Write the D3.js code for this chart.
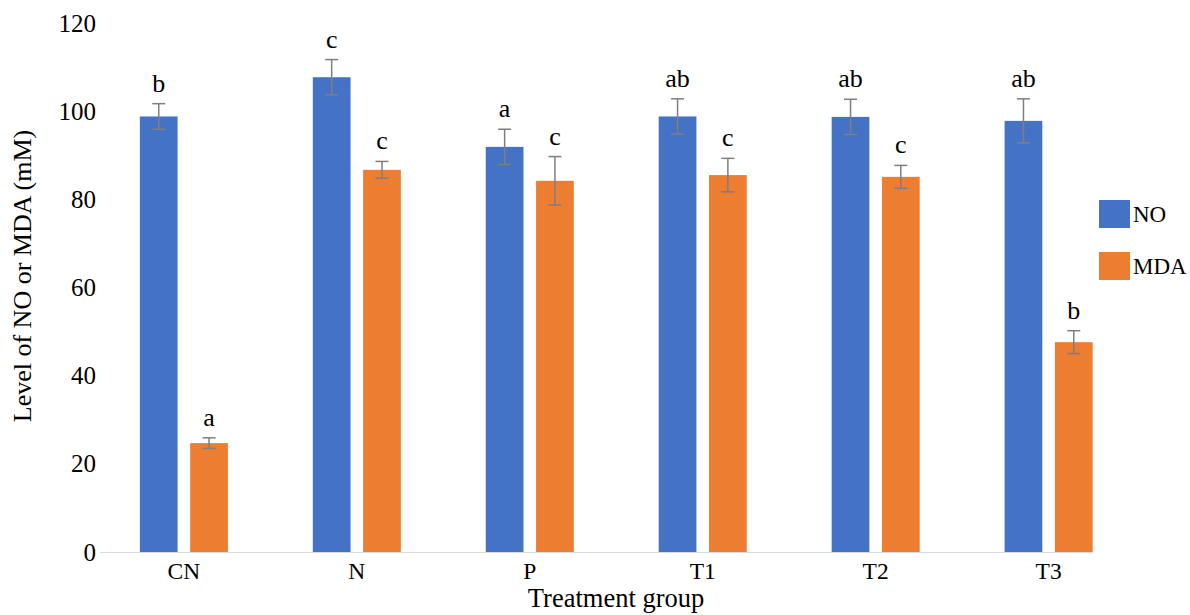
<!DOCTYPE html>
<html>
<head>
<meta charset="utf-8">
<script src="https://cdn.jsdelivr.net/npm/d3@7/dist/d3.min.js"></script>
<style>
  body { margin: 0; background: #fff; }
  text { font-family: "Liberation Serif", "Times New Roman", serif; fill: #000; }
</style>
</head>
<body>
<script>
'use strict';

const groups = ['CN', 'N', 'P', 'T1', 'T2', 'T3'];
const seriesNames = ['NO', 'MDA'];
const noValues  = [98.8, 107.7, 91.9, 98.8, 98.7, 97.8];
const noErrors  = [2.9, 4.0, 4.0, 4.0, 4.0, 5.0];
const noLetters = ['b', 'c', 'a', 'ab', 'ab', 'ab'];
const mdaValues  = [24.7, 86.7, 84.2, 85.5, 85.1, 47.6];
const mdaErrors  = [1.2, 1.9, 5.5, 3.8, 2.6, 2.6];
const mdaLetters = ['a', 'c', 'c', 'c', 'c', 'b'];
const yTicks = [0, 20, 40, 60, 80, 100, 120];

const width = 1190;
const height = 615;
const colors = { NO: '#4472C4', MDA: '#ED7D31' };

const svg = d3.select('body').append('svg')
    .attr('width', width)
    .attr('height', height);

// x: one band per treatment group, inner band per series
let x = d3.scaleBand()
    .domain(groups)
    .range([97.5, 1135])
    .paddingInner(0.491)
    .paddingOuter(0.245);

let xSub = d3.scaleBand()
    .domain(seriesNames)
    .range([0, x.bandwidth()])
    .paddingInner(0.25);

let y = d3.scaleLinear()
    .domain([0, 120])
    .range([552, 23]);

// rows for drawing
let rows = [];
groups.forEach(function (g, i) {
    rows.push({ group: g, series: 'NO', value: noValues[i], err: noErrors[i], letter: noLetters[i] });
    rows.push({ group: g, series: 'MDA', value: mdaValues[i], err: mdaErrors[i], letter: mdaLetters[i] });
});

// y tick labels (no axis line, as in the original)
svg.append('g').selectAll('text')
    .data(yTicks).enter()
    .append('text')
    .attr('x', 96)
    .attr('y', d => y(d))
    .attr('dy', '0.34em')
    .attr('text-anchor', 'end')
    .style('font-size', '25px')
    .text(d => d);

// bars
svg.append('g').selectAll('rect')
    .data(rows).enter()
    .append('rect')
    .attr('x', d => x(d.group) + xSub(d.series))
    .attr('y', d => y(d.value))
    .attr('width', xSub.bandwidth())
    .attr('height', d => y(0) - y(d.value))
    .style('fill', d => colors[d.series]);

// baseline
svg.append('line')
    .attr('x1', 100)
    .attr('x2', x('T3') + xSub('MDA') + xSub.bandwidth())
    .attr('y1', y(0) + 0.5)
    .attr('y2', y(0) + 0.5)
    .style('stroke', '#d9d9d9')
    .style('stroke-width', 1);

// x labels
svg.append('g').selectAll('text')
    .data(groups).enter()
    .append('text')
    .attr('x', d => x(d) + x.bandwidth() / 2)
    .attr('y', 579)
    .attr('text-anchor', 'middle')
    .style('font-size', '23.5px')
    .text(d => d);

// error bars
let eb = svg.append('g')
    .style('stroke', '#7f7f7f')
    .style('stroke-width', 1.5);

rows.forEach(function (d) {
    let cx = x(d.group) + xSub(d.series) + xSub.bandwidth() / 2;
    let top = y(d.value + d.err);
    let bot = y(d.value - d.err);
    eb.append('line').attr('x1', cx).attr('x2', cx).attr('y1', top).attr('y2', bot);
    eb.append('line').attr('x1', cx - 6.5).attr('x2', cx + 6.5).attr('y1', top).attr('y2', top);
    eb.append('line').attr('x1', cx - 6.5).attr('x2', cx + 6.5).attr('y1', bot).attr('y2', bot);
});

// significance letters
svg.append('g').selectAll('text')
    .data(rows).enter()
    .append('text')
    .attr('x', d => x(d.group) + xSub(d.series) + xSub.bandwidth() / 2)
    .attr('y', d => y(d.value + d.err) - 12)
    .attr('text-anchor', 'middle')
    .style('font-size', '26px')
    .text(d => d.letter);

// axis titles
svg.append('text')
    .attr('x', 616)
    .attr('y', 607)
    .attr('text-anchor', 'middle')
    .style('font-size', '26.5px')
    .text('Treatment group');

svg.append('text')
    .attr('transform', 'translate(31,276) rotate(-90)')
    .attr('text-anchor', 'middle')
    .style('font-size', '26px')
    .text('Level of NO or MDA (mM)');

// legend
let legend = svg.append('g').selectAll('g')
    .data(seriesNames).enter()
    .append('g')
    .attr('transform', (d, i) => 'translate(1099,' + (200 + i * 52) + ')');

legend.append('rect')
    .attr('width', 31)
    .attr('height', 28)
    .style('fill', d => colors[d]);

legend.append('text')
    .attr('x', 34)
    .attr('y', 22)
    .style('font-size', '23px')
    .text(d => d);
</script>
</body>
</html>
